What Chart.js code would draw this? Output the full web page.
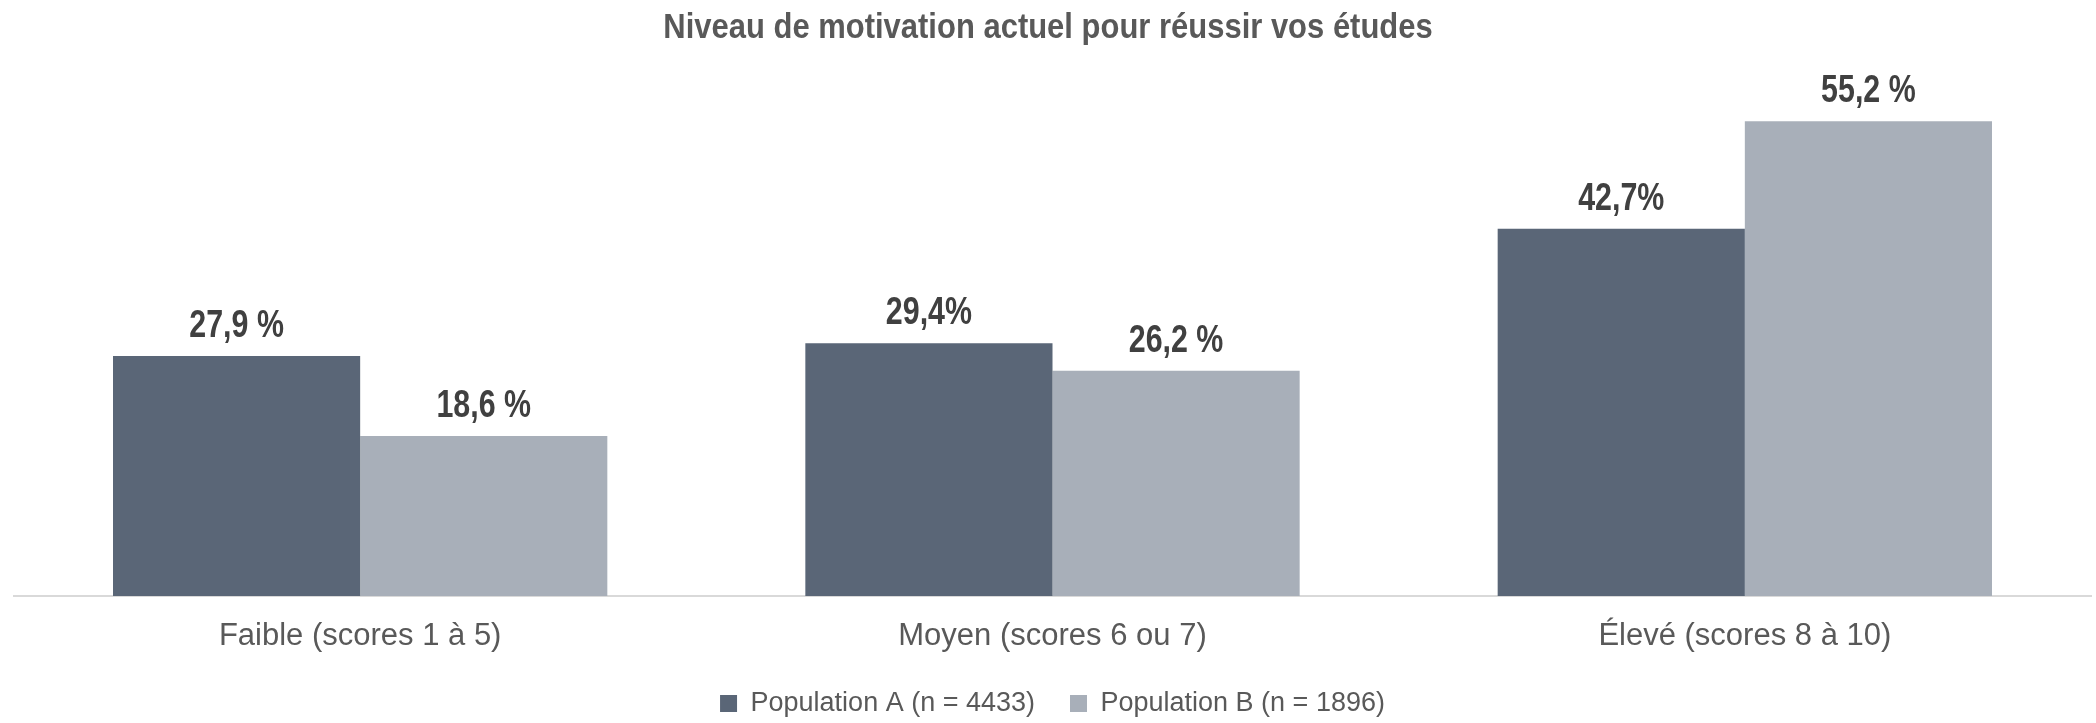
<!DOCTYPE html>
<html>
<head>
<meta charset="utf-8">
<script src="https://cdn.jsdelivr.net/npm/chart.js@4"></script>
<style>
  html, body { margin: 0; padding: 0; background: #fff; }
  #wrap { width: 2096px; height: 723px; position: relative; }
</style>
</head>
<body>
<div id="wrap"><canvas id="chart"></canvas></div>
<script>
const chartTitle = 'Niveau de motivation actuel pour réussir vos études';
const categories = ['Faible (scores 1 à 5)', 'Moyen (scores 6 ou 7)', 'Élevé (scores 8 à 10)'];
const seriesNames = ['Population A (n = 4433)', 'Population B (n = 1896)'];
const popA = [27.9, 29.4, 42.7];
const popB = [18.6, 26.2, 55.2];
const popALabels = ['27,9 %', '29,4%', '42,7%'];
const popBLabels = ['18,6 %', '26,2 %', '55,2 %'];

const FONT = "'Liberation Sans', Arial, sans-serif";
const colorA = '#5a6677';
const colorB = '#a8afb9';

// the original uses a narrow bold face; squeeze the bold text horizontally
function narrowText(ctx, text, x, y, sx) {
  ctx.save();
  ctx.translate(x, y);
  ctx.scale(sx, 1);
  ctx.fillText(text, 0, 0);
  ctx.restore();
}

const narrowTitle = {
  id: 'narrowTitle',
  afterDraw(chart) {
    const ctx = chart.ctx;
    ctx.save();
    ctx.font = 'bold 35px ' + FONT;
    ctx.fillStyle = '#595959';
    ctx.textAlign = 'center';
    ctx.textBaseline = 'alphabetic';
    narrowText(ctx, chartTitle, chart.width / 2, 38, 0.885);
    ctx.restore();
  }
};

// value labels above each bar
const barLabels = {
  id: 'barLabels',
  afterDatasetsDraw(chart) {
    const ctx = chart.ctx;
    const texts = [popALabels, popBLabels];
    ctx.save();
    ctx.font = 'bold 38px ' + FONT;
    ctx.fillStyle = '#404040';
    ctx.textAlign = 'center';
    ctx.textBaseline = 'alphabetic';
    chart.data.datasets.forEach((ds, i) => {
      const meta = chart.getDatasetMeta(i);
      meta.data.forEach((bar, j) => {
        narrowText(ctx, texts[i][j], bar.x, bar.y - 19, 0.8);
      });
    });
    ctx.restore();
  }
};

new Chart(document.getElementById('chart'), {
  type: 'bar',
  data: {
    labels: categories,
    datasets: [
      { label: seriesNames[0], data: popA, backgroundColor: colorA, borderWidth: 0 },
      { label: seriesNames[1], data: popB, backgroundColor: colorB, borderWidth: 0 }
    ]
  },
  options: {
    responsive: true,
    maintainAspectRatio: false,
    animation: false,
    layout: { padding: { left: 14, right: 5, top: 80, bottom: -4 } },
    datasets: {
      bar: { categoryPercentage: 0.714, barPercentage: 1.0 }
    },
    plugins: {
      title: { display: false },
      legend: {
        position: 'bottom',
        labels: {
          color: '#595959',
          font: { family: FONT, size: 27 },
          boxWidth: 17,
          boxHeight: 17,
          padding: 35
        }
      },
      tooltip: { enabled: false }
    },
    scales: {
      x: {
        grid: { display: false, drawTicks: false },
        border: { display: true, color: '#d9d9d9', width: 2 },
        ticks: {
          color: '#595959',
          font: { family: FONT, size: 31 },
          padding: 22
        },
        afterFit(scale) { scale.height = 59; }
      },
      y: {
        display: false,
        min: 0,
        max: 60
      }
    }
  },
  plugins: [barLabels, narrowTitle]
});
</script>
</body>
</html>
